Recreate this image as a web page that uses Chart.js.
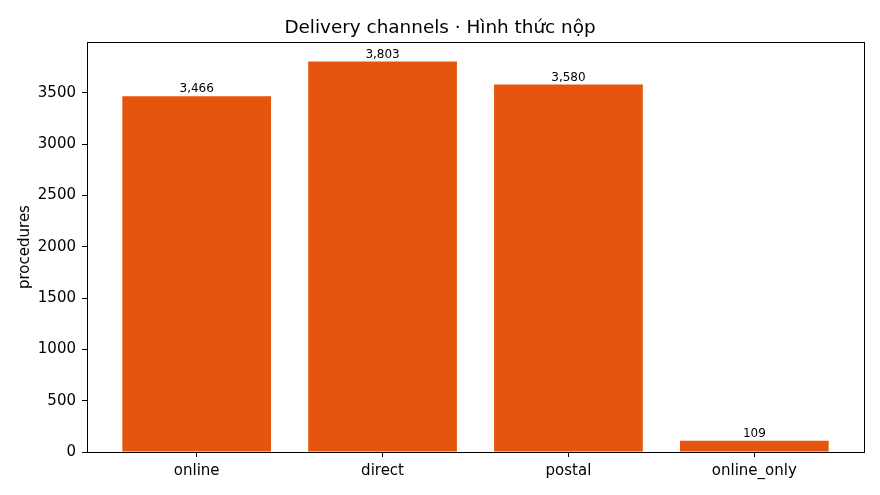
<!DOCTYPE html>
<html>
<head>
<meta charset="utf-8">
<script src="https://cdn.jsdelivr.net/npm/chart.js@4"></script>
<style>
  html, body { margin: 0; padding: 0; background: #fff; }
  #wrap { width: 880px; height: 495px; }
</style>
</head>
<body>
<div id="wrap"><canvas id="chart"></canvas></div>
<script>
// ── Datos ──────────────────────────
const CATEGORIES = ['online', 'direct', 'postal', 'online_only'];
const PROCEDURES = [3466, 3803, 3580, 109];
const Y_TICKS    = [0, 500, 1000, 1500, 2000, 2500, 3000, 3500];

const BAR_COLOR = '#e6550d';
const FONT = 'DejaVu Sans';

const fmtNum = n => n.toLocaleString('en-US');

// caja completa alrededor del área (estilo matplotlib)
const frame = {
  id: 'frame',
  afterDraw(chart) {
    const { ctx, chartArea: a } = chart;
    ctx.save();
    ctx.strokeStyle = '#000';
    ctx.lineWidth = 1;
    ctx.strokeRect(Math.round(a.left) + 0.5, Math.round(a.top) + 0.5,
                   Math.round(a.right - a.left), Math.round(a.bottom - a.top));
    ctx.restore();
  }
};

// etiquetas de valor encima de cada barra
const barLabels = {
  id: 'barLabels',
  afterDatasetsDraw(chart) {
    const { ctx } = chart;
    const meta = chart.getDatasetMeta(0);
    ctx.save();
    ctx.font = '12px "' + FONT + '"';
    ctx.fillStyle = '#000';
    ctx.textAlign = 'center';
    ctx.textBaseline = 'bottom';
    meta.data.forEach((bar, i) => {
      ctx.fillText(fmtNum(PROCEDURES[i]), bar.x, bar.y - 1);
    });
    ctx.restore();
  }
};

const ctx = document.getElementById('chart').getContext('2d');
new Chart(ctx, {
  type: 'bar',
  data: {
    datasets: [{
      label: 'procedures',
      data: PROCEDURES.map((v, i) => ({ x: i, y: v })),
      backgroundColor: BAR_COLOR,
      borderWidth: 0,
      inflateAmount: 0,
      barPercentage: 0.8,
      categoryPercentage: 1
    }]
  },
  options: {
    responsive: true,
    maintainAspectRatio: false,
    animation: false,
    layout: { padding: { left: 16, right: 16, top: 0, bottom: 0 } },
    plugins: {
      legend: { display: false },
      tooltip: { enabled: false },
      title: {
        display: true,
        text: 'Delivery channels · Hình thức nộp',
        color: '#000',
        font: { family: FONT, size: 18.4, weight: 'normal' },
        padding: { top: 17, bottom: 3 }
      }
    },
    scales: {
      x: {
        type: 'linear',
        offset: false,
        min: -0.59,
        max: CATEGORIES.length - 1 + 0.59,
        afterBuildTicks: s => { s.ticks = CATEGORIES.map((_, i) => ({ value: i })); },
        afterFit: s => { s.height = 43; },
        ticks: {
          color: '#000',
          font: { family: FONT, size: 15 },
          padding: 5,
          maxRotation: 0,
          callback: v => CATEGORIES[v] ?? ''
        },
        grid: { offset: false, drawOnChartArea: false, drawTicks: true, tickLength: 5, color: '#000' },
        border: { color: '#000', width: 1 }
      },
      y: {
        min: 0,
        max: 3993,
        afterBuildTicks: s => { s.ticks = Y_TICKS.map(v => ({ value: v })); },
        afterFit: s => { s.width = 71; },
        ticks: {
          color: '#000',
          font: { family: FONT, size: 15 },
          padding: 6,
          callback: v => String(v)
        },
        grid: { drawOnChartArea: false, drawTicks: true, tickLength: 5, color: '#000' },
        border: { color: '#000', width: 1 },
        title: {
          display: true,
          text: 'procedures',
          color: '#000',
          font: { family: FONT, size: 15 },
          padding: { top: 0, bottom: 4 }
        }
      }
    }
  },
  plugins: [frame, barLabels]
});
</script>
</body>
</html>
